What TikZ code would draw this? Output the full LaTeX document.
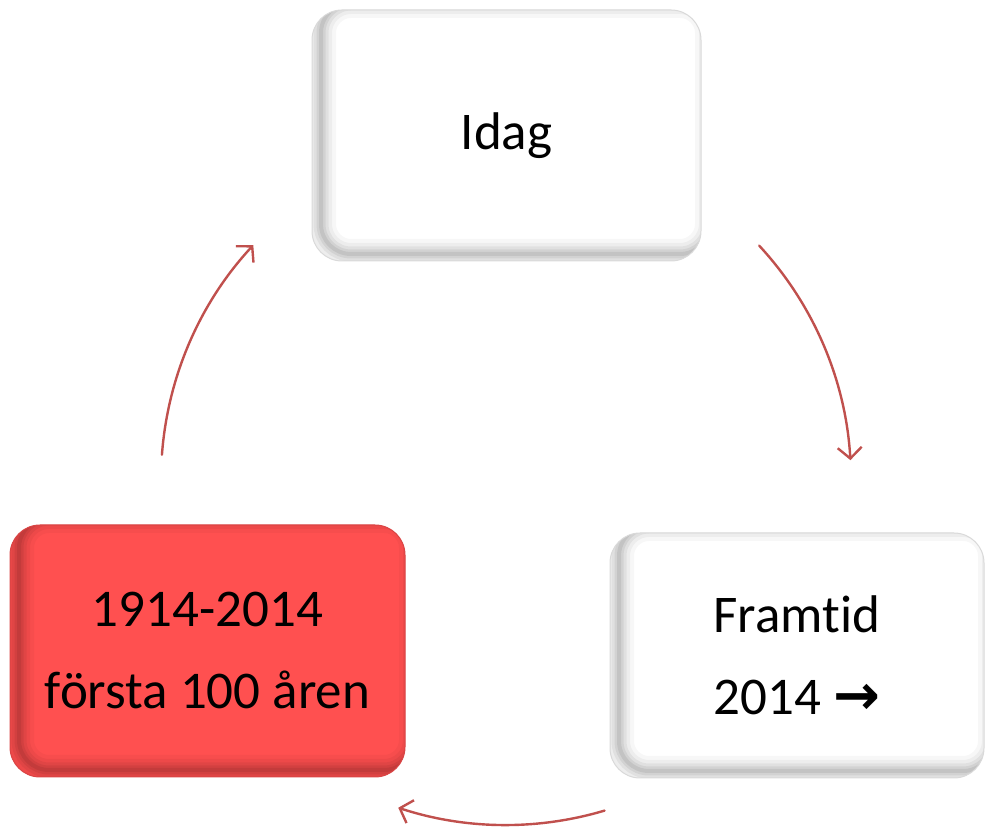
\documentclass[tikz,border=0pt]{standalone}
\usepackage{fontspec}
\setmainfont{Carlito}[Ligatures=NoCommon]
\newfontfamily\arrowfont{DejaVu Sans}
\usetikzlibrary{arrows.meta}
\definecolor{arrowred}{HTML}{C0504D}
\definecolor{boxred}{HTML}{FF5050}
\tikzset{
 box/.style={rounded corners=30pt, draw=black!15, line width=1pt, align=center,
   font=\fontsize{53}{82}\selectfont, inner sep=0pt},
 innershade/.style={path picture={
   \foreach \w/\o in {30/0.03,22/0.04,15/0.05,9/0.06,4/0.07}{
     \draw[line width=\w pt, #1, opacity=\o, rounded corners=30pt]
       ([xshift=9pt,yshift=7pt]path picture bounding box.south west) rectangle
       ([xshift=9pt,yshift=7pt]path picture bounding box.north east);}
 }},
 cyc/.style={draw=arrowred, line width=2.4pt, line cap=round,
   -{Straight Barb[length=11pt,width=24pt,line width=2.4pt]}},
}
\begin{document}
\begin{tikzpicture}[x=1pt,y=1pt]
\useasboundingbox (0,0) rectangle (990,829);
\node[box, fill=white, innershade=black, minimum width=389pt, minimum height=251pt] (today) at (506.5,693.5) {Idag};
\node[box, fill=boxred, draw=boxred!85!black, innershade=black, minimum width=395pt, minimum height=252pt] (past) at (207.5,178) {1914-2014\\första 100 åren};
\node[box, fill=white, innershade=black, minimum width=374pt, minimum height=245pt] (future) at (797,173.5) {Framtid\\2014 {\arrowfont\bfseries\fontsize{56}{82}\selectfont →}};
\coordinate (c) at (506,349);
\coordinate (a1) at ([shift={(42.8:345pt)}]c);
\coordinate (a2) at ([shift={(-73.4:345pt)}]c);
\coordinate (a3) at ([shift={(175.8:345pt)}]c);
\draw[cyc] (a1) arc[start angle=42.8, end angle=3.3, radius=345pt];
\draw[cyc] (a2) arc[start angle=-73.4, end angle=-108.2, radius=345pt];
\draw[cyc] (a3) arc[start angle=175.8, end angle=137.1, radius=345pt];
\end{tikzpicture}
\end{document}
